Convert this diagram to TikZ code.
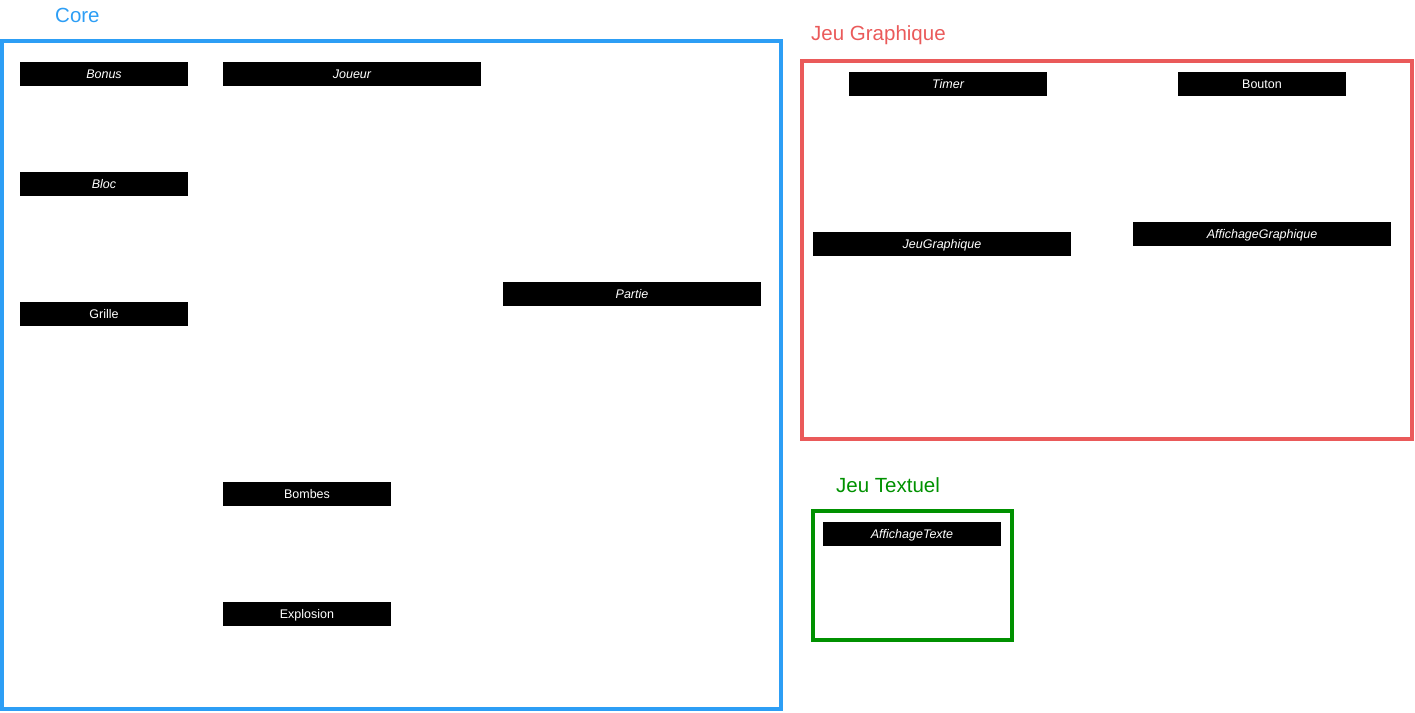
\documentclass[tikz,border=0pt]{standalone}
\usepackage{fontspec}
\setmainfont{Liberation Sans}
\definecolor{coreblue}{RGB}{45,158,245}
\definecolor{graphred}{RGB}{234,90,90}
\definecolor{textgreen}{RGB}{0,145,0}
\begin{document}
\begin{tikzpicture}[x=1pt,y=-1pt,
    hdr/.style={fill=black,text=white,inner sep=0pt,minimum height=24pt,
      text height=9pt,text depth=0pt,font=\fontsize{12.5}{14}\selectfont},
    ital/.style={font=\fontsize{12.5}{14}\selectfont\itshape},
    frame/.style={draw=#1,line width=3.5pt},
    title/.style={anchor=west,inner sep=0pt,text=#1,font=\fontsize{20.5}{24}\selectfont}]
  \useasboundingbox (0,0) rectangle (1415,712);
  % packages
  \draw[frame=coreblue] (2,41) rectangle (781,709);
  \draw[frame=graphred] (802,61) rectangle (1412,439);
  \draw[frame=textgreen] (813,511) rectangle (1012,640);
  \node[title=coreblue] (core) at (55,15) {Core};
  \node[title=graphred] (graph) at (811,35) {Jeu Graphique};
  \node[title=textgreen] (text) at (836,485) {Jeu Textuel};
  % classes
  \draw
    (104,73.5) node[hdr,ital,minimum width=168pt] (bonus){Bonus}
    (352,73.5) node[hdr,ital,minimum width=258pt] (joueur){Joueur}
    (104,183.5) node[hdr,ital,minimum width=168pt] (bloc){Bloc}
    (104,313.5) node[hdr,minimum width=168pt] (grille){Grille}
    (632,293.5) node[hdr,ital,minimum width=258pt] (partie){Partie}
    (307,493.5) node[hdr,minimum width=168pt] (bombes){Bombes}
    (307,613.5) node[hdr,minimum width=168pt] (explosion){Explosion}
    (948,83.5) node[hdr,ital,minimum width=198pt] (timer){Timer}
    (1262,83.5) node[hdr,minimum width=168pt] (bouton){Bouton}
    (942,243.5) node[hdr,ital,minimum width=258pt] (jeugraphique){JeuGraphique}
    (1262,233.5) node[hdr,ital,minimum width=258pt] (affgraphique){AffichageGraphique}
    (912,533.5) node[hdr,ital,minimum width=178pt] (afftexte){AffichageTexte};
\end{tikzpicture}
\end{document}
